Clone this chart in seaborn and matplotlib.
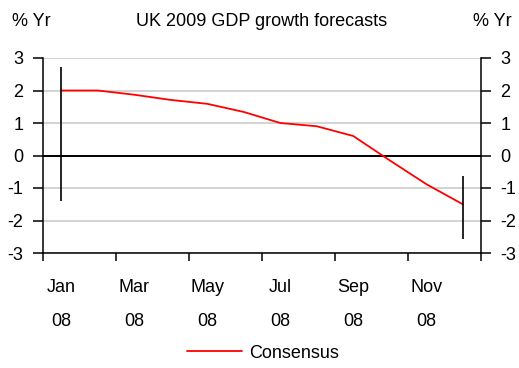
import matplotlib
matplotlib.use("Agg")
import matplotlib.pyplot as plt
import seaborn as sns
import numpy as np
import pandas as pd

# Consensus forecast for UK 2009 GDP growth, by month of 2008
months = ["Jan", "Feb", "Mar", "Apr", "May", "Jun", "Jul", "Aug", "Sep", "Oct", "Nov", "Dec"]
consensus = [2.0, 2.0, 1.87, 1.71, 1.59, 1.34, 1.0, 0.9, 0.6, -0.15, -0.88, -1.5]

# range of individual forecasts (high / low) shown as bars
range_months = ["Jan", "Dec"]
range_high = [2.73, -0.64]
range_low = [-1.39, -2.56]

tick_labels = ["Jan\n08", "Mar\n08", "May\n08", "Jul\n08", "Sep\n08", "Nov\n08"]

sns.set_theme(style="white")
plt.rcParams['font.family'] = ['Liberation Sans', 'DejaVu Sans']
plt.rcParams['axes.unicode_minus'] = False
plt.rcParams.update({"text.color": "black", "xtick.color": "black", "ytick.color": "black",
                     "axes.labelcolor": "black"})

df = pd.DataFrame({"month": months, "value": consensus})
df["x"] = np.arange(len(months)) + 0.5

fig = plt.figure(figsize=(5.19, 3.68), dpi=100)
ax = fig.add_axes([43 / 519, 1 - 253 / 368, (481 - 43) / 519, (253 - 58) / 368])

ax.set_ylim(-3, 3)
ax.set_xlim(0, 12)
ax.yaxis.grid(True, color="#c8c8c8", lw=1.1)
ax.set_axisbelow(True)
ax.axhline(0, color="black", lw=1.4, zorder=1.5)

sns.lineplot(data=df, x="x", y="value", color="red", lw=1.3, ax=ax, label="Consensus", legend=False)

rx = [months.index(m) + 0.5 for m in range_months]
ax.vlines(rx, range_low, range_high, color="black", lw=1.2)

# axes styling
for s in ["left", "right", "bottom"]:
    ax.spines[s].set_visible(True)
    ax.spines[s].set_color("black")
    ax.spines[s].set_linewidth(1.1)
ax.spines["top"].set_visible(False)

ax.set_yticks(np.arange(-3, 4, 1))
ax.tick_params(axis="y", which="major", direction="out", length=7, width=1.1, color="black",
               left=True, right=True, labelleft=True, labelright=True, labelsize=13, pad=7)
ax.set_xticks(np.arange(0, 13, 2))
ax.set_xticklabels([])
ax.set_xticks(np.arange(0.5, 12, 2), minor=True)
ax.set_xticklabels(tick_labels, minor=True, linespacing=2.3)
ax.tick_params(axis="x", which="major", direction="out", length=6, width=1.1, color="black", bottom=True)
ax.tick_params(axis="x", which="minor", length=0, labelsize=13, pad=19)
ax.set_xlabel("")
ax.set_ylabel("")

fig.text(262 / 519, 1 - 22 / 368, "UK 2009 GDP growth forecasts", ha="center", va="center", fontsize=13)
fig.text(12 / 519, 1 - 22 / 368, "% Yr", ha="left", va="center", fontsize=13)
fig.text(512 / 519, 1 - 22 / 368, "% Yr", ha="right", va="center", fontsize=13)

handles, labels = ax.get_legend_handles_labels()
fig.legend(handles, labels, loc="center", bbox_to_anchor=(263 / 519, 1 - 353 / 368), frameon=False,
           fontsize=13, handlelength=3.0, handletextpad=0.4)

fig.savefig("out.png", dpi=100, facecolor="white")
